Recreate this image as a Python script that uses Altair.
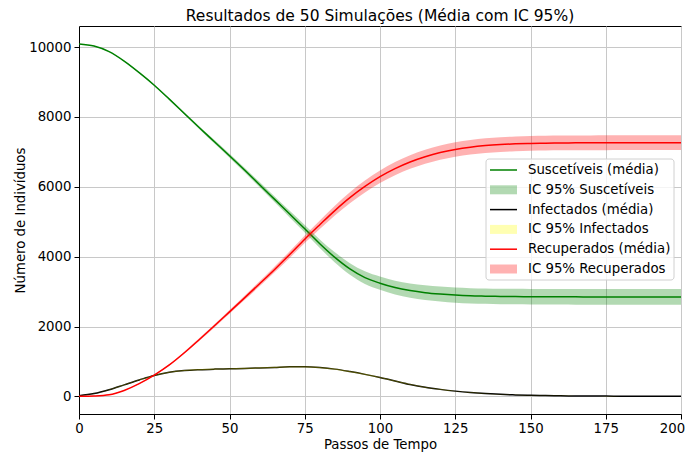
import altair as alt
import pandas as pd

# ---------------- data ----------------
steps = list(range(0, 201, 5))

sus_mean = [10090, 10030, 9870, 9600, 9270, 8910, 8510, 8100, 7690, 7290,
            6890, 6480, 6060, 5640, 5220, 4800, 4370, 3980, 3650, 3400,
            3240, 3115, 3030, 2970, 2930, 2900, 2880, 2870, 2862, 2857,
            2853, 2851, 2850, 2849, 2848, 2847, 2847, 2846, 2846, 2846, 2846]
sus_ci = [0, 2, 5, 8, 12, 18, 25, 32, 40, 48,
          55, 65, 75, 85, 95, 110, 125, 145, 165, 180,
          190, 198, 205, 210, 214, 217, 219, 220, 221, 222,
          222, 223, 223, 224, 224, 224, 225, 225, 225, 225, 225]

inf_mean = [20, 80, 190, 330, 470, 600, 690, 740, 765, 780,
            790, 800, 815, 830, 845, 845, 825, 780, 710, 630,
            540, 440, 340, 260, 200, 150, 110, 80, 58, 42,
            30, 22, 16, 12, 9, 7, 5, 4, 3, 2, 1]
inf_ci = [3, 5, 8, 10, 12, 14, 15, 16, 16, 17,
          17, 17, 18, 18, 18, 18, 18, 17, 16, 15,
          14, 13, 11, 10, 8, 7, 6, 5, 4, 3,
          3, 2, 2, 2, 1, 1, 1, 1, 1, 1, 1]

rec_mean = [0, 10, 45, 170, 365, 610, 900, 1250, 1630, 2020,
            2420, 2820, 3225, 3635, 4060, 4500, 4915, 5320, 5690, 6010,
            6290, 6520, 6710, 6860, 6980, 7070, 7135, 7180, 7210, 7230,
            7243, 7251, 7256, 7259, 7261, 7262, 7263, 7264, 7264, 7265, 7265]
rec_ci = [0, 2, 5, 8, 12, 16, 22, 30, 38, 46,
          55, 64, 74, 84, 95, 108, 122, 140, 158, 170,
          180, 188, 195, 200, 204, 206, 208, 209, 210, 210,
          211, 211, 211, 212, 212, 212, 212, 212, 212, 212, 212]

series = [
    # label mean, label CI, mean, ci, line colour, band colour
    ("Suscetíveis (média)", "IC 95% Suscetíveis", sus_mean, sus_ci, "#008000", "#008000"),
    ("Infectados (média)", "IC 95% Infectados", inf_mean, inf_ci, "#000000", "#ffff00"),
    ("Recuperados (média)", "IC 95% Recuperados", rec_mean, rec_ci, "#ff0000", "#ff0000"),
]

x_ticks = [0, 25, 50, 75, 100, 125, 150, 175, 200]
y_ticks = [0, 2000, 4000, 6000, 8000, 10000]

FONT = "DejaVu Sans"
FS = 13.3
W, H = 602, 388

x_scale = alt.Scale(domain=[0, 200], nice=False, zero=False)
y_scale = alt.Scale(domain=[-505, 10605], nice=False, zero=False)

x_enc = alt.X("t:Q", scale=x_scale,
              axis=alt.Axis(values=x_ticks, title="Passos de Tempo",
                            titleY=34, titleBaseline="alphabetic",
                            labelPadding=2, labelFlush=False,
                            labelOffset={"condition": {"test": "datum.value == 200",
                                                       "value": -9},
                                         "value": 0}))
y_axis = alt.Axis(values=y_ticks, title="Número de Indivíduos", format="d",
                  titleX=-55, titleY=H / 2, titleBaseline="alphabetic",
                  titleAngle=270, titleAlign="center", labelPadding=3,
                  labelFlush=False)

layers = []
legend_entries = []
for lab_m, lab_c, mean, ci, lc, bc in series:
    df = pd.DataFrame({
        "t": steps,
        "mean": mean,
        "lo": [m - c for m, c in zip(mean, ci)],
        "hi": [m + c for m, c in zip(mean, ci)],
    })
    line = alt.Chart(df).mark_line(color=lc, strokeWidth=1.5,
                                   interpolate="monotone").encode(
        x=x_enc, y=alt.Y("mean:Q", scale=y_scale, axis=y_axis))
    band = alt.Chart(df).mark_area(color=bc, opacity=0.3,
                                   interpolate="monotone").encode(
        x=x_enc, y=alt.Y("lo:Q", scale=y_scale, axis=y_axis), y2="hi:Q")
    layers += [line, band]
    legend_entries.append(("line", lab_m, lc))
    legend_entries.append(("patch", lab_c, bc))

# ---------------- legend (drawn by hand, like matplotlib's) ----------------
box = alt.Chart(alt.Data(values=[{"k": 1}])).mark_rect(
    fill="white", fillOpacity=0.8, stroke="#d0d0d0", strokeWidth=1,
    cornerRadius=3).encode(
    x=alt.value(407), x2=alt.value(595), y=alt.value(133), y2=alt.value(254))
layers.append(box)

row0, row_step = 144, 19.8
for i, (kind, label, col) in enumerate(legend_entries):
    yc = row0 + i * row_step
    one = alt.Data(values=[{"label": label}])
    if kind == "line":
        sw = alt.Chart(one).mark_rule(color=col, strokeWidth=1.5).encode(
            x=alt.value(411), x2=alt.value(438), y=alt.value(yc))
    else:
        sw = alt.Chart(one).mark_rect(color=col, opacity=0.3).encode(
            x=alt.value(411), x2=alt.value(438),
            y=alt.value(yc - 4.5), y2=alt.value(yc + 4.5))
    txt = alt.Chart(one).mark_text(align="left", baseline="middle",
                                   font=FONT, fontSize=FS, color="black").encode(
        x=alt.value(449), y=alt.value(yc), text="label:N")
    layers += [sw, txt]

chart = alt.layer(*layers).properties(
    width=W, height=H,
    title=alt.TitleParams("Resultados de 50 Simulações (Média com IC 95%)",
                          font=FONT, fontSize=15.5, fontWeight="normal",
                          color="black", offset=2),
    autosize=alt.AutoSizeParams(type="none"),
    padding={"left": 71, "top": 18, "right": 5, "bottom": 38},
).configure_view(stroke="black", strokeWidth=1).configure_axis(
    labelFont=FONT, labelFontSize=FS, labelColor="black",
    titleFont=FONT, titleFontSize=FS, titleFontWeight="normal", titleColor="black",
    tickColor="black", tickSize=5, domainColor="black",
    gridColor="#c8c8c8", gridWidth=1,
)

chart.save("out.html", embed_options={"renderer": "svg", "actions": False})
